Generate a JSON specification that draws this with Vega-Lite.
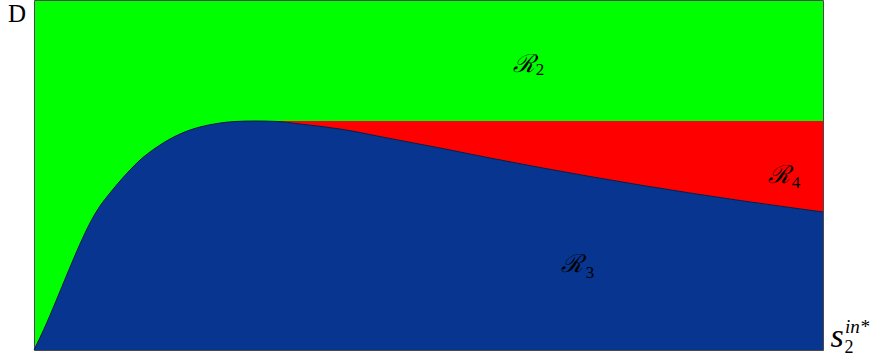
{
  "$schema": "https://vega.github.io/schema/vega-lite/v6.json",
  "width": 789,
  "height": 350,
  "padding": {"left": 34, "top": 0, "right": 52, "bottom": 8},
  "autosize": {"type": "none"},
  "background": "white",
  "config": {"view": {"fill": "#00ff00", "stroke": "#4a4a4a", "strokeWidth": 1}},
  "datasets": {
    "boundary": [
      {"x": 0, "y": 0}, {"x": 10, "y": 21}, {"x": 22, "y": 49}, {"x": 34, "y": 78},
      {"x": 46, "y": 106}, {"x": 56, "y": 127}, {"x": 66, "y": 144}, {"x": 76, "y": 157},
      {"x": 86, "y": 169}, {"x": 96, "y": 180}, {"x": 106, "y": 190}, {"x": 116, "y": 198},
      {"x": 126, "y": 205}, {"x": 136, "y": 211}, {"x": 146, "y": 216}, {"x": 156, "y": 220},
      {"x": 166, "y": 223}, {"x": 183, "y": 226.5}, {"x": 201, "y": 228.5},
      {"x": 221, "y": 229}, {"x": 241, "y": 228.6}, {"x": 266, "y": 226}, {"x": 306, "y": 221},
      {"x": 356, "y": 211.5}, {"x": 406, "y": 202}, {"x": 456, "y": 192}, {"x": 506, "y": 182.5},
      {"x": 556, "y": 173.5}, {"x": 606, "y": 165}, {"x": 656, "y": 157}, {"x": 706, "y": 149.5},
      {"x": 756, "y": 142.5}, {"x": 789, "y": 138}
    ],
    "labels": [
      {"x": 490, "y": 278, "t": "ℛ", "kind": "R"},
      {"x": 506, "y": 275, "t": "2", "kind": "sub"},
      {"x": 745, "y": 167, "t": "ℛ", "kind": "R"},
      {"x": 762, "y": 162, "t": "4", "kind": "sub"},
      {"x": 538, "y": 78, "t": "ℛ", "kind": "R"},
      {"x": 556, "y": 72, "t": "3", "kind": "sub"}
    ]
  },
  "encoding": {
    "x": {"field": "x", "type": "quantitative", "scale": {"domain": [0, 789], "nice": false, "zero": false}, "axis": null},
    "y": {"field": "y", "type": "quantitative", "scale": {"domain": [0, 350], "nice": false, "zero": false}, "axis": null}
  },
  "layer": [
    {
      "data": {"name": "boundary"},
      "transform": [{"filter": "datum.x >= 221"}],
      "mark": {"type": "area", "color": "#ff0000", "interpolate": "monotone"},
      "encoding": {"y2": {"datum": 229}}
    },
    {
      "data": {"name": "boundary"},
      "mark": {"type": "area", "color": "#08358f", "interpolate": "monotone"},
      "encoding": {}
    },
    {
      "data": {"name": "boundary"},
      "mark": {"type": "line", "color": "#0a1a4a", "strokeWidth": 1, "interpolate": "monotone"},
      "encoding": {}
    },
    {
      "data": {"name": "labels"},
      "transform": [{"filter": "datum.kind == 'R'"}],
      "mark": {"type": "text", "font": "DejaVu Serif", "fontStyle": "italic", "fontSize": 25, "align": "center", "baseline": "alphabetic", "color": "black"},
      "encoding": {"text": {"field": "t"}}
    },
    {
      "data": {"name": "labels"},
      "transform": [{"filter": "datum.kind == 'sub'"}],
      "mark": {"type": "text", "font": "Liberation Serif", "fontSize": 17, "align": "center", "baseline": "alphabetic", "color": "black"},
      "encoding": {"text": {"field": "t"}}
    },
    {
      "data": {"values": [{"x": -17, "y": 328, "t": "D"}]},
      "mark": {"type": "text", "font": "Liberation Serif", "fontSize": 25, "align": "center", "baseline": "alphabetic", "color": "black"},
      "encoding": {"text": {"field": "t"}}
    },
    {
      "data": {"values": [{"x": 803, "y": 3, "t": "s"}]},
      "mark": {"type": "text", "font": "Liberation Serif", "fontStyle": "italic", "fontSize": 34, "align": "center", "baseline": "alphabetic", "color": "black"},
      "encoding": {"text": {"field": "t"}}
    },
    {
      "data": {"values": [{"x": 815, "y": -3, "t": "2"}]},
      "mark": {"type": "text", "font": "Liberation Serif", "fontSize": 18, "align": "center", "baseline": "alphabetic", "color": "black"},
      "encoding": {"text": {"field": "t"}}
    },
    {
      "data": {"values": [{"x": 811, "y": 17, "t": "in*"}]},
      "mark": {"type": "text", "font": "Liberation Serif", "fontStyle": "italic", "fontSize": 19, "align": "left", "baseline": "alphabetic", "color": "black"},
      "encoding": {"text": {"field": "t"}}
    }
  ]
}
